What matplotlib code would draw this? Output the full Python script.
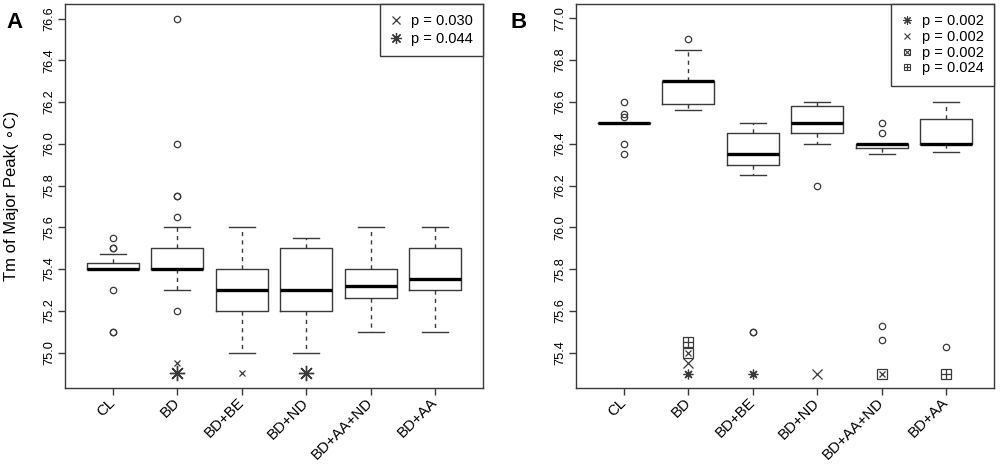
import numpy as np
import matplotlib.pyplot as plt
from matplotlib.lines import Line2D
from matplotlib.legend_handler import HandlerTuple

plt.rcParams['font.family'] = ['Liberation Sans', 'DejaVu Sans']

groups = ["CL", "BD", "BD+BE", "BD+ND", "BD+AA+ND", "BD+AA"]

# panel A box statistics
a_q1 = [75.40, 75.40, 75.20, 75.20, 75.26, 75.30]
a_med = [75.40, 75.40, 75.30, 75.30, 75.32, 75.35]
a_q3 = [75.43, 75.50, 75.40, 75.50, 75.40, 75.50]
a_lo = [75.40, 75.30, 75.00, 75.00, 75.10, 75.10]
a_hi = [75.47, 75.60, 75.60, 75.55, 75.60, 75.60]
a_out = [
    [75.55, 75.50, 75.50, 75.30, 75.10, 75.10],
    [75.20, 75.65, 75.75, 75.75, 76.00, 76.60],
    [],
    [],
    [],
    [],
]

# panel B box statistics
b_q1 = [76.50, 76.59, 76.30, 76.45, 76.38, 76.40]
b_med = [76.50, 76.70, 76.35, 76.50, 76.40, 76.40]
b_q3 = [76.50, 76.70, 76.45, 76.58, 76.40, 76.52]
b_lo = [76.50, 76.56, 76.25, 76.40, 76.35, 76.36]
b_hi = [76.50, 76.85, 76.50, 76.60, 76.40, 76.60]
b_out = [
    [76.60, 76.54, 76.53, 76.40, 76.35],
    [76.90],
    [75.50, 75.50],
    [76.20],
    [76.50, 76.45, 75.53, 75.46],
    [75.43],
]

# significance markers (group, y)
a_cross = (["BD", "BD+BE"], [74.95, 74.90])
a_star = (["BD", "BD+ND"], [74.90, 74.90])
a_labels = ["p = 0.030", "p = 0.044"]

b_star = (["BD", "BD+BE"], [75.30, 75.30])
b_cross = (["BD", "BD+ND"], [75.35, 75.30])
b_boxx = (["BD", "BD+AA+ND"], [75.40, 75.30])
b_boxplus = (["BD", "BD+AA"], [75.45, 75.30])
b_labels = ["p = 0.002", "p = 0.002", "p = 0.002", "p = 0.024"]

LINE = "#3a3a3a"
STAR = (8, 2, 0)


def draw_boxes(ax, q1, med, q3, lo, hi, out):
    stats = []
    for i in range(len(groups)):
        stats.append(dict(q1=q1[i], med=med[i], q3=q3[i], whislo=lo[i],
                          whishi=hi[i], fliers=out[i]))
    ax.bxp(stats, positions=np.arange(1, len(groups) + 1), widths=0.8,
           capwidths=0.4, showfliers=True,
           boxprops=dict(color=LINE, lw=1.0),
           medianprops=dict(color="black", lw=2.4, solid_capstyle="butt"),
           whiskerprops=dict(color=LINE, lw=1.0, linestyle=(0, (3, 3))),
           capprops=dict(color=LINE, lw=1.0),
           flierprops=dict(marker="o", markerfacecolor="none",
                           markeredgecolor=LINE, markersize=4.6, mew=0.9))


def xpos(names):
    return [groups.index(n) + 1 for n in names]


def style_axes(ax, ylim, yticks):
    ax.set_xlim(0.26, 6.74)
    ax.set_ylim(*ylim)
    ax.set_yticks(yticks)
    ax.set_yticklabels(["%.1f" % t for t in yticks], rotation=90,
                       va="center", fontsize=9.2)
    ax.set_xticks(np.arange(1, len(groups) + 1))
    ax.set_xticklabels(groups, rotation=45, ha="right", va="center",
                       rotation_mode="anchor", fontsize=10.8)
    ax.tick_params(axis="both", direction="out", length=5, color=LINE,
                   width=1.0)
    ax.tick_params(axis="x", pad=4)
    ax.tick_params(axis="y", pad=2)
    for s in ax.spines.values():
        s.set_color(LINE)
        s.set_linewidth(1.0)


fig = plt.figure(figsize=(10, 4.66), dpi=100)
axA = fig.add_axes([0.065, 0.1674, 0.418, 0.824])
axB = fig.add_axes([0.576, 0.1674, 0.418, 0.824])

# ---- panel A ----
draw_boxes(axA, a_q1, a_med, a_q3, a_lo, a_hi, a_out)
axA.plot(xpos(a_cross[0]), a_cross[1], ls="none", marker="x",
         color=LINE, markersize=5, mew=0.9)
axA.plot(xpos(a_star[0]), a_star[1], ls="none", marker=STAR,
         color=LINE, markersize=11, mew=1.0)
style_axes(axA, (74.83, 76.67), np.arange(75.0, 76.61, 0.2))
axA.set_ylabel("Tm of Major Peak( \u2218C)", fontsize=12)
axA.yaxis.set_label_coords(-0.11, 0.5)
hA = [Line2D([], [], ls="none", marker="x", color=LINE, markersize=6, mew=0.9),
      Line2D([], [], ls="none", marker=STAR, color=LINE, markersize=8, mew=0.9)]
legA = axA.legend(hA, a_labels, loc="upper right", borderaxespad=0,
                  fancybox=False, framealpha=1, edgecolor=LINE,
                  fontsize=10.5, handlelength=0.8, handletextpad=0.6,
                  labelspacing=0.25, borderpad=0.7)
legA.get_frame().set_linewidth(1.0)

# ---- panel B ----
draw_boxes(axB, b_q1, b_med, b_q3, b_lo, b_hi, b_out)
axB.plot(xpos(b_star[0]), b_star[1], ls="none", marker=STAR,
         color=LINE, markersize=7, mew=0.9)
axB.plot(xpos(b_cross[0]), b_cross[1], ls="none", marker="x",
         color=LINE, markersize=6.5, mew=0.9)
for m, sz in [("s", 6.5), ("x", 5)]:
    axB.plot(xpos(b_boxx[0]), b_boxx[1], ls="none", marker=m, color=LINE,
             markerfacecolor="none", markersize=sz, mew=0.9)
for m, sz in [("s", 6.5), ("+", 6.5)]:
    axB.plot(xpos(b_boxplus[0]), b_boxplus[1], ls="none", marker=m,
             color=LINE, markerfacecolor="none", markersize=sz, mew=0.9)
style_axes(axB, (75.232, 77.068), np.arange(75.4, 77.01, 0.2))


def mk(m, size):
    return Line2D([], [], ls="none", marker=m, color=LINE,
                  markerfacecolor="none", markersize=size, mew=0.8)


hB = [mk(STAR, 6), mk("x", 5),
      (mk("s", 5), mk("x", 3.8)), (mk("s", 5), mk("+", 5))]
legB = axB.legend(hB, b_labels, loc="upper right", borderaxespad=0,
                  fancybox=False, framealpha=1, edgecolor=LINE,
                  fontsize=10.5, handlelength=0.8, handletextpad=0.6,
                  labelspacing=0.12, borderpad=0.7,
                  handler_map={tuple: HandlerTuple(ndivide=1)})
legB.get_frame().set_linewidth(1.0)

fig.text(0.006, 0.975, "A", fontsize=16, fontweight="bold", va="top")
fig.text(0.511, 0.975, "B", fontsize=16, fontweight="bold", va="top")

fig.savefig("out.png", dpi=100)
